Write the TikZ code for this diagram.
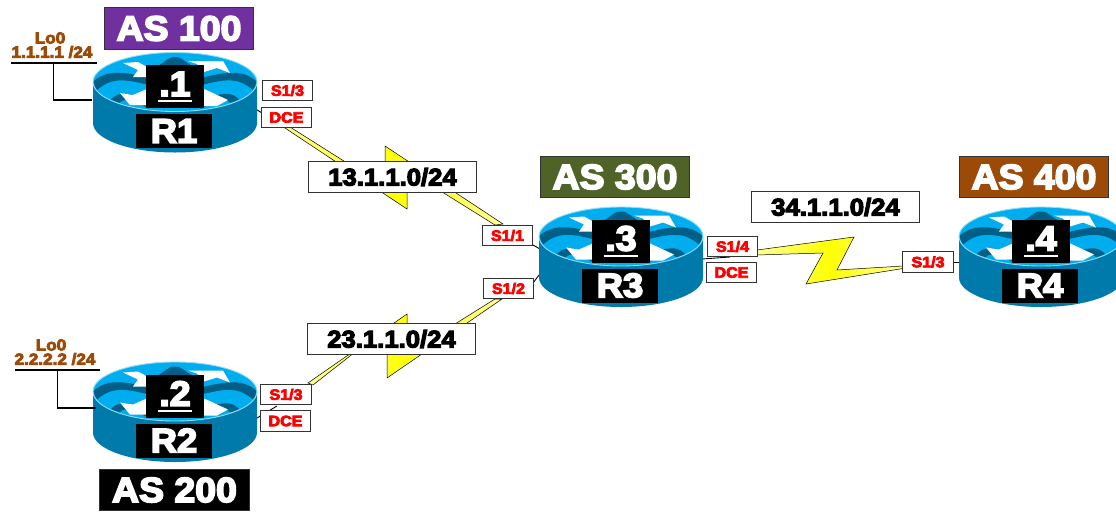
\documentclass[tikz,border=0pt]{standalone}
\usepackage{fontspec}
\newfontfamily\hvfont{Liberation Sans}[BoldFeatures={FakeBold=5,FakeStretch=1.07}]
\definecolor{rbody}{HTML}{0079AB}
\definecolor{rtop}{HTML}{00AEEF}
\definecolor{rwave}{HTML}{005F86}
\definecolor{rhalo}{HTML}{8FDDF7}
\definecolor{edgec}{HTML}{333333}
\definecolor{brownc}{HTML}{9C4A08}
\definecolor{purplec}{HTML}{7030A0}
\definecolor{olivec}{HTML}{4F6228}
\definecolor{boltpale}{HTML}{FFFF99}
\newcommand{\fs}[1]{\hvfont\bfseries\fontsize{#1}{#1}\selectfont}
\tikzset{
  iflab/.style={draw=edgec,line width=1.1pt,fill=white,text=red,minimum width=50.5,minimum height=20.5,inner sep=0pt,font=\fs{15}},
  netlab/.style={draw=edgec,line width=1.1pt,fill=white,text=black,minimum width=168.5,minimum height=31.5,inner sep=0pt,font=\fs{24}},
  aslab/.style={draw=edgec,line width=1.1pt,text=white,minimum width=149.5,minimum height=41.5,inner sep=0pt,font=\fs{35}},
  lolab/.style={text=brownc,inner sep=0pt,font=\fs{16}},
  addrbox/.style={fill=black,text=white,minimum width=58,minimum height=43,inner sep=0pt,font=\fs{35}},
  namebox/.style={fill=black,text=white,minimum width=76,minimum height=34,inner sep=0pt,font=\fs{34}},
  wire/.style={draw=black,line width=0.9pt},
  lowire/.style={draw=black,line width=1.1pt},
  bolt/.style={draw=black,line width=0.5pt,left color=boltpale,right color=boltpale,middle color=yellow}
}
\newcommand{\routershape}[4]{%
\begin{scope}[shift={(#1,#2)}]
  \fill[rbody] (-82,0) -- (-82,41) arc[start angle=180,end angle=0,x radius=82,y radius=29.5] -- (82,0) -- cycle;
  \fill[rtop] (0,0) ellipse (82 and 29.5);
  \begin{scope}
    \clip (0,0) ellipse (81 and 28.5);
    \foreach \m in {1,-1} {
      \begin{scope}[xscale=\m]
        \fill[rwave] (-84,2) .. controls (-70,-14) and (-50,-10) .. (-26,-4) -- (-26,3) .. controls (-48,-2) and (-62,-6) .. (-78,8) -- cycle;
        \fill[rwave] (-66,20) .. controls (-58,8) and (-45,10) .. (-26,20) -- (-26,27) .. controls (-42,17) and (-52,14) .. (-58,24) -- cycle;
      \end{scope}
    }
    \fill[rwave] (-18,-16) .. controls (-10,-19) and (-8,-25) .. (0,-25) .. controls (8,-25) and (10,-19) .. (18,-16) -- cycle;
    \fill[white] (-52,-19) -- (-37,-20) -- (-26,-14) -- (-26,-5) -- (-42,-5) -- (-37,-12) -- cycle;
    \fill[white] (13,-21) -- (48,-21) -- (55,-9) -- (42,-14) -- (29,-10) -- (22,-18) -- cycle;
    \fill[white] (-55,11) -- (-42,13) -- (-26,6) -- (-26,23) -- (-45,23) -- cycle;
    \fill[white] (27,6) -- (53,18) -- (42,24) -- (27,24) -- cycle;
  \end{scope}
  \draw[rhalo,line width=0.9pt] (0,0) ellipse (82 and 29.5);
  \node[addrbox] (#3-addr) at (0,4.5) {};
  \node[text=white,inner sep=0pt,font=\fs{35}] (#3-num) at (0,2) {#4};
  \draw[white,line width=2pt] (-17,19) -- (17,19);
  \node[namebox] (#3-name) at (-1,49) {\MakeUppercase{#3}};
  \coordinate (#3-c) at (0,0);
\end{scope}}
\begin{document}
\begin{tikzpicture}[x=1pt,y=-1pt]
\useasboundingbox (0,0) rectangle (1116,512);
\clip (0,0) rectangle (1116,512);
\fill[white] (0,0) rectangle (1116,512);
% anchors of the thin serial stubs
\coordinate (w1a) at (254,108); \coordinate (w1b) at (262,113);
\coordinate (w2a) at (257,418); \coordinate (w2b) at (277,406);
\coordinate (w3a) at (533,245); \coordinate (w3b) at (540,249);
\coordinate (w4a) at (533,283); \coordinate (w4b) at (539,275);
\coordinate (w5a) at (702,259); \coordinate (w5b) at (730,257);
\coordinate (w6a) at (950,262); \coordinate (w6b) at (960,262);
\draw[wire] (w1a) -- (w1b);
\draw[wire] (w2a) -- (w2b);
\draw[wire] (w3a) -- (w3b);
\draw[wire] (w4a) -- (w4b);
\draw[wire] (w5a) -- (w5b);
\draw[wire] (w6a) -- (w6b);
% lightning bolts
\draw[bolt] (290,127) -- (385,187) -- (385,146) -- (503,224) -- (495,225) -- (407,170) -- (407,209) -- (285,128) -- cycle;
\draw[bolt] (308,383) -- (407,314) -- (407,354) -- (495,299) -- (502,299) -- (387,378) -- (387,327) -- (313,385) -- cycle;
\draw[bolt] (757,250) -- (854,237) -- (837,270) -- (903,266) -- (903,268.5) -- (806,284) -- (823,253) -- (757,255) -- cycle;
% routers
\routershape{175}{82}{r1}{.1}
\routershape{175}{391.5}{r2}{.2}
\routershape{621}{236.5}{r3}{.3}
\routershape{1041}{236.5}{r4}{.4}
% AS labels
\node[aslab,fill=purplec] (as100) at (179,28.5) {AS 100};
\node[aslab,fill=black] (as200) at (174.5,490) {AS 200};
\node[aslab,fill=olivec] (as300) at (615,177) {AS 300};
\node[aslab,fill=brownc] (as400) at (1034,177) {AS 400};
% network labels
\node[netlab] (n13) at (392.5,177) {13.1.1.0/24};
\node[netlab] (n23) at (391.5,339) {23.1.1.0/24};
\node[netlab] (n34) at (835.5,207) {34.1.1.0/24};
% interface labels
\node[iflab] (r1s) at (287.5,90.5) {S1/3};
\node[iflab] (r1d) at (286.5,117.5) {DCE};
\node[iflab] (r2s) at (286,394.5) {S1/3};
\node[iflab] (r2d) at (285.5,421) {DCE};
\node[iflab] (r3a) at (507.5,235.5) {S1/1};
\node[iflab] (r3b) at (508.5,288.5) {S1/2};
\node[iflab] (r3c) at (732.5,246.5) {S1/4};
\node[iflab] (r3d) at (731.5,272.5) {DCE};
\node[iflab] (r4s) at (928,262) {S1/3};
% loopbacks
\node[lolab] (lo1) at (50,38) {Lo0};
\node[lolab] (ip1) at (52,52) {1.1.1.1 /24};
\node[lolab] (lo2) at (51,345) {Lo0};
\node[lolab] (ip2) at (55,359) {2.2.2.2 /24};
\coordinate (b1l) at (11,63); \coordinate (b1r) at (97,63); \coordinate (b1m) at (53.5,63); \coordinate (b1e) at (92,100);
\coordinate (b2l) at (15,370); \coordinate (b2r) at (100,370); \coordinate (b2m) at (57.5,370); \coordinate (b2e) at (96,408);
\draw[lowire] (b1l) -- (b1r);
\draw[lowire] (b1m) |- (b1e);
\draw[lowire] (b2l) -- (b2r);
\draw[lowire] (b2m) |- (b2e);
\end{tikzpicture}
\end{document}
